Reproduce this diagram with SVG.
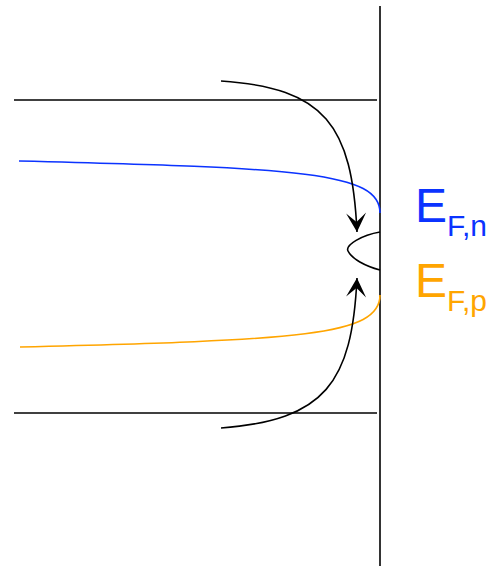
<svg xmlns="http://www.w3.org/2000/svg" width="496" height="566" viewBox="0 0 496 566">
<style>
.ln{fill:none;stroke:#000;stroke-width:1.6}
.lbl{font-family:"Liberation Sans",Arial,sans-serif}
</style>
<defs>
<marker id="ah" markerUnits="userSpaceOnUse" markerWidth="22" markerHeight="22" viewBox="-21 -11 22 22" refX="0" refY="0" orient="auto">
<path d="M0,0 L-19,-10 L-10,0 L-19,10 Z" fill="#000"/>
</marker>
</defs>
<rect width="496" height="566" fill="#fff"/>
<g id="surface"><line class="ln" x1="380" y1="6" x2="380" y2="566"/></g>
<g id="band-top"><line class="ln" x1="14" y1="100" x2="377" y2="100"/></g>
<g id="band-bottom"><line class="ln" x1="14" y1="413" x2="377" y2="413"/></g>
<g id="fermi-n"><path d="M19,161 C300,168 380,172 380,213" fill="none" stroke="#0b33ff" stroke-width="1.6"/></g>
<g id="fermi-p"><path d="M20,347 C300,340 380,336 380,295" fill="none" stroke="#ffa500" stroke-width="1.6"/></g>
<g id="lens"><path class="ln" d="M380,232 C362,235 345,245 348,251 C352,259 365,266 380,270"/></g>
<g id="connectors">
<path class="ln" d="M221,81 C325,88 352,125 357,232" marker-end="url(#ah)"/>
<path class="ln" d="M221,428 C325,420 352,383 357,278" marker-end="url(#ah)"/>
</g>
<g id="label-n" class="lbl" fill="#0b33ff"><text x="415" y="222" font-size="48">E</text><text x="447" y="236" font-size="30">F,n</text></g>
<g id="label-p" class="lbl" fill="#ffa500"><text x="415" y="297" font-size="48">E</text><text x="447" y="311" font-size="30">F,p</text></g>
</svg>
